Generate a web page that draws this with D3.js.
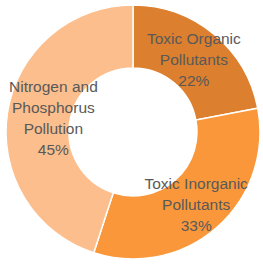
<!DOCTYPE html>
<html><head><meta charset="utf-8">
<script src="https://cdn.jsdelivr.net/npm/d3@7"></script>
<style>html,body{margin:0;padding:0;background:#fff;}svg{display:block;}</style>
</head><body>
<svg id="c" width="263" height="265"></svg>
<script>
const categories = ["Toxic Organic Pollutants", "Toxic Inorganic Pollutants", "Nitrogen and Phosphorus Pollution"];
const values = [22, 33, 45];
const labelLines = [["Toxic Organic", "Pollutants"], ["Toxic Inorganic", "Pollutants"], ["Nitrogen and", "Phosphorus", "Pollution"]];
const colors = ["#dc7f2f", "#f9973a", "#fcbe8c"];

const W = 263, H = 265, cx = 133, cy = 132, R = 127, r = 64;
const svg = d3.select("#c");
const g = svg.append("g").attr("transform", `translate(${cx},${cy})`);
const data = categories.map((c, i) => ({ c, v: values[i], lines: labelLines[i], color: colors[i] }));
const pie = d3.pie().value(d => d.v).sort(null);
const arc = d3.arc().innerRadius(r).outerRadius(R);
const arcs = pie(data);
g.selectAll("path").data(arcs).join("path")
  .attr("d", arc).attr("fill", d => d.data.color)
  .attr("stroke", "#fff").attr("stroke-width", 1.5);

const total = d3.sum(values);
const lh = 21;
arcs.forEach(a => {
  const [x, y] = arc.centroid(a);
  const lines = a.data.lines.concat([Math.round(a.data.v / total * 100) + "%"]);
  const t = g.append("text")
    .attr("text-anchor", "middle")
    .attr("font-family", "'Liberation Sans', Arial, sans-serif")
    .attr("font-size", 15.5).attr("fill", "#595959");
  const n = lines.length;
  lines.forEach((l, i) => {
    t.append("tspan").attr("x", 0).attr("y", (i - (n - 1) / 2) * lh).attr("dy", "0.35em").text(l);
  });
  const bb = t.node().getBBox();
  let tx = x;
  const leftLimit = -cx + 9 - bb.x;
  const rightLimit = W - cx - 3 - (bb.x + bb.width);
  tx = Math.max(tx, leftLimit);
  tx = Math.min(tx, rightLimit);
  t.attr("transform", `translate(${tx},${y + 1})`);
});
</script>
</body></html>
